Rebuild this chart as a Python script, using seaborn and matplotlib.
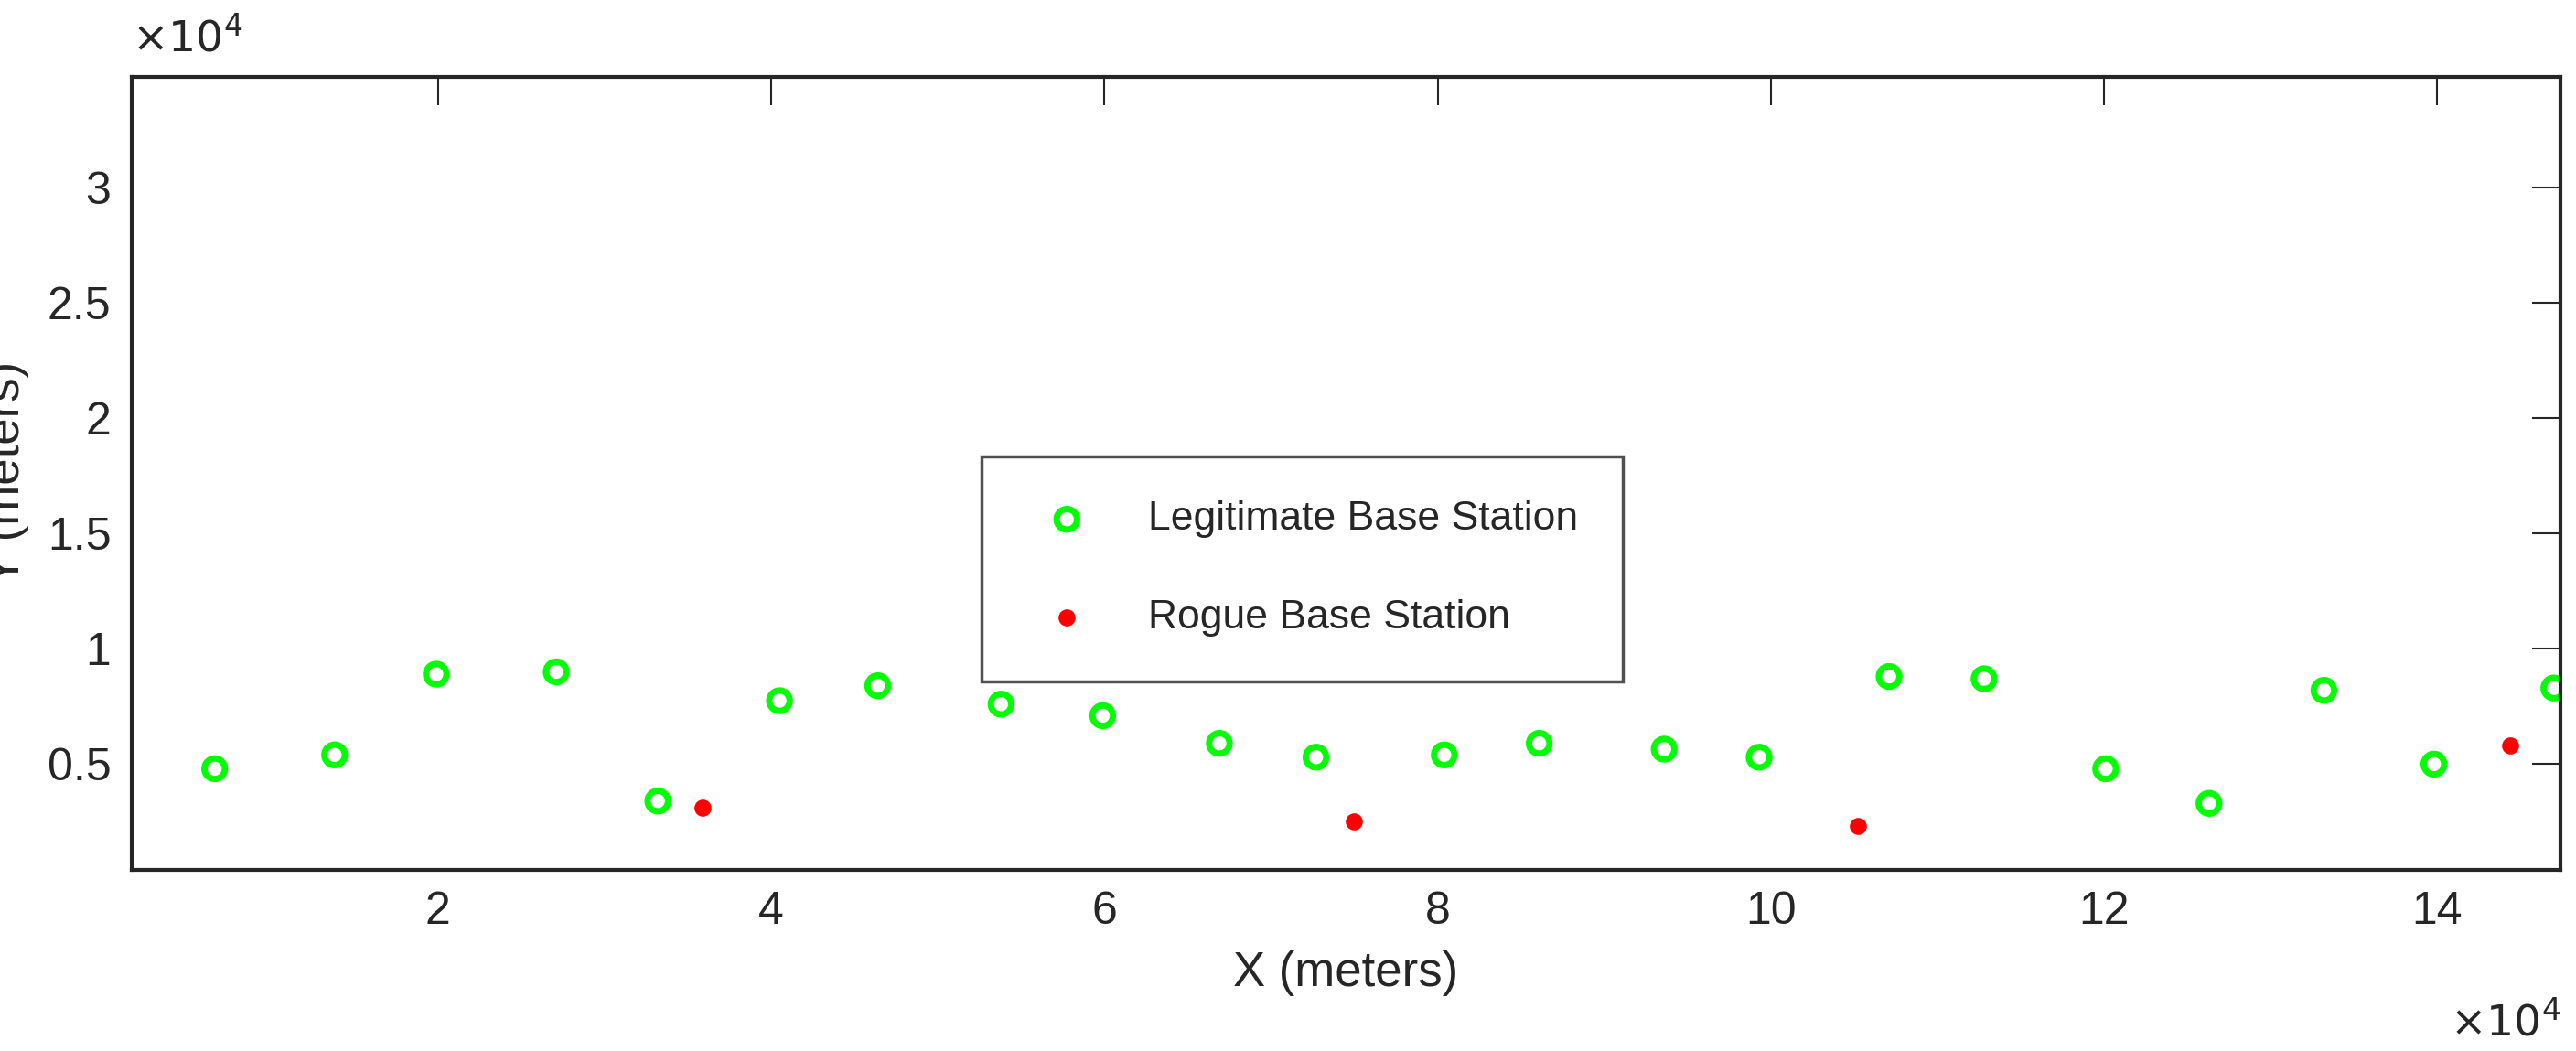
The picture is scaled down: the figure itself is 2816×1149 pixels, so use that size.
import matplotlib
matplotlib.use("Agg")
import matplotlib.pyplot as plt
import seaborn as sns

# coordinates in units of 1e4 meters
legit_x = [0.66, 1.38, 1.99, 2.71, 3.32, 4.05, 4.64, 5.38, 5.99, 6.69, 7.27,
           8.04, 8.61, 9.36, 9.93, 10.71, 11.28, 12.01, 12.63, 13.32, 13.98, 14.70]
legit_y = [0.48, 0.54, 0.89, 0.90, 0.34, 0.775, 0.84, 0.76, 0.71, 0.59, 0.53,
           0.54, 0.59, 0.565, 0.53, 0.88, 0.87, 0.48, 0.33, 0.82, 0.50, 0.83]
rogue_x = [3.59, 7.50, 10.52, 14.44]
rogue_y = [0.31, 0.25, 0.23, 0.58]

sns.set_theme(style="white")
plt.rcParams["font.family"] = ["Liberation Sans Narrow", "Liberation Sans", "DejaVu Sans"]

fig = plt.figure(figsize=(28.16, 11.49), dpi=100)
ax = fig.add_axes([0.051, 0.172, 0.943, 0.755])

sns.scatterplot(x=legit_x, y=legit_y, ax=ax, marker="o", s=260,
                facecolor="none", edgecolor="#00ff00", linewidth=5,
                label="Legitimate Base Station")
sns.scatterplot(x=rogue_x, y=rogue_y, ax=ax, marker="o", s=180,
                color="#ff0000", edgecolor="#ff0000", linewidth=0,
                label="Rogue Base Station")

ax.set_xlim(0.16, 14.74)
ax.set_ylim(0.04, 3.48)
ax.set_xticks([2, 4, 6, 8, 10, 12, 14])
ax.set_xticklabels(["2", "4", "6", "8", "10", "12", "14"])
ax.set_yticks([0.5, 1, 1.5, 2, 2.5, 3])
ax.set_yticklabels(["0.5", "1", "1.5", "2", "2.5", "3"])
ax.tick_params(direction="in", length=22, width=1.5, top=True, right=True,
               labelsize=36, colors="#262626", pad=16)
for sp in ax.spines.values():
    sp.set_color("#262626")
    sp.set_linewidth(3)

ax.set_xlabel("X (meters)", fontsize=38, color="#262626", labelpad=14)
ax.set_ylabel("Y (meters)", fontsize=38, color="#262626", labelpad=14)

ax.text(0.0, 1.02, r"$\times10^4$", transform=ax.transAxes, fontsize=34,
        color="#262626", ha="left", va="bottom")
ax.text(1.0, -0.165, r"$\times10^4$", transform=ax.transAxes, fontsize=34,
        color="#262626", ha="right", va="top")

leg = ax.legend(loc="center", bbox_to_anchor=(0.482, 0.38), fontsize=32,
                frameon=True, fancybox=False, borderpad=1.1, labelspacing=1.5,
                handletextpad=1.0, edgecolor="#262626")
leg.get_frame().set_linewidth(2.5)

fig.savefig("out.png", dpi=100)
